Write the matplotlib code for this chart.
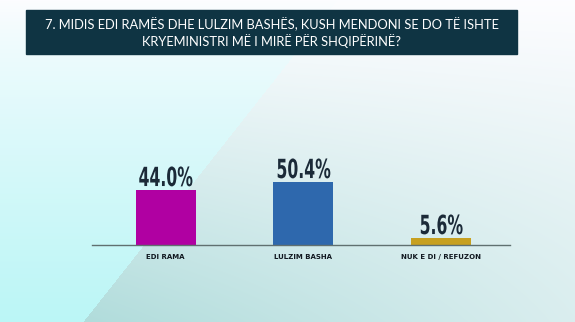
import numpy as np
import matplotlib
matplotlib.use("Agg")
import matplotlib.pyplot as plt
from matplotlib.patches import Rectangle
from matplotlib.patheffects import AbstractPathEffect
from matplotlib.transforms import Affine2D

title = "7. MIDIS EDI RAMËS DHE LULZIM BASHËS, KUSH MENDONI SE DO TË ISHTE\nKRYEMINISTRI MË I MIRË PËR SHQIPËRINË?"
categories = ["EDI RAMA", "LULZIM BASHA", "NUK E DI / REFUZON"]
values = [44.0, 50.4, 5.6]
colors = ["#b000a2", "#2e68ad", "#c7a020"]


class Squeeze(AbstractPathEffect):
    # narrows text horizontally around its centre (condensed look)
    def __init__(self, sx):
        super().__init__()
        self.sx = sx

    def draw_path(self, renderer, gc, tpath, affine, rgbFace=None):
        ext = tpath.get_extents(affine)
        cx = (ext.x0 + ext.x1) / 2
        aff = affine + Affine2D().translate(-cx, 0).scale(self.sx, 1).translate(cx, 0)
        renderer.draw_path(gc, tpath, aff, rgbFace)


W, H = 575, 322
fig = plt.figure(figsize=(W / 100, H / 100), dpi=100)

# background gradient with the diagonal split
yy, xx = np.mgrid[0:H, 0:W].astype(float)
edge = 337 - 0.79 * yy
t = yy / H
white = np.array([0.99, 0.99, 1.0])
cyan = np.array([0xbb, 0xf6, 0xf6]) / 255
teal = np.array([0xb0, 0xdc, 0xdb]) / 255
a = np.clip(t ** 0.8, 0, 1)[..., None]
img_left = white * (1 - a) + cyan * a
d = np.clip((xx - edge) / (W - edge.min()), 0, 1)
b = np.clip(t ** 1.2 * (1 - 0.55 * d), 0, 1)[..., None]
img_right = white * (1 - b) + teal * b
img = np.where((xx < edge)[..., None], img_left, img_right)
bg = fig.add_axes([0, 0, 1, 1])
bg.imshow(img, aspect="auto", extent=[0, W, H, 0])
bg.axis("off")

# title box
fig.add_artist(Rectangle((26 / W, 1 - 54 / H), 491 / W, 43.5 / H,
                         transform=fig.transFigure, facecolor="#0f3443",
                         edgecolor="#0f3443"))
fig.text(271.5 / W, 1 - 33 / H, title, ha="center", va="center",
         color="white", fontsize=9.3, family="Lato", linespacing=1.25)

# bars
ax = fig.add_axes([92 / W, 1 - 244.5 / H, 418 / W, 87.5 / H])
ax.patch.set_alpha(0)
x = np.arange(len(categories))
ax.bar(x, values, width=0.436, color=colors)
ax.set_xlim(-0.534, 2.50)
ax.set_ylim(0, 70)
for s in ["top", "right", "left"]:
    ax.spines[s].set_visible(False)
ax.spines["bottom"].set_color("#607070")
ax.spines["bottom"].set_linewidth(1)
ax.set_yticks([])
ax.set_xticks(x)
ax.set_xticklabels(categories, fontsize=5, fontweight="heavy", color="#111820")
ax.tick_params(axis="x", length=0, pad=7)

for xi, v in zip(x, values):
    ax.annotate(f"{v:.1f}%", (xi, v), xytext=(0, 2.5), textcoords="offset points",
                ha="center", va="baseline", fontsize=19, fontweight="bold",
                family="DejaVu Sans", fontstretch="condensed", color="#1b2a38",
                path_effects=[Squeeze(0.66)])

fig.savefig("out.png", dpi=100)
